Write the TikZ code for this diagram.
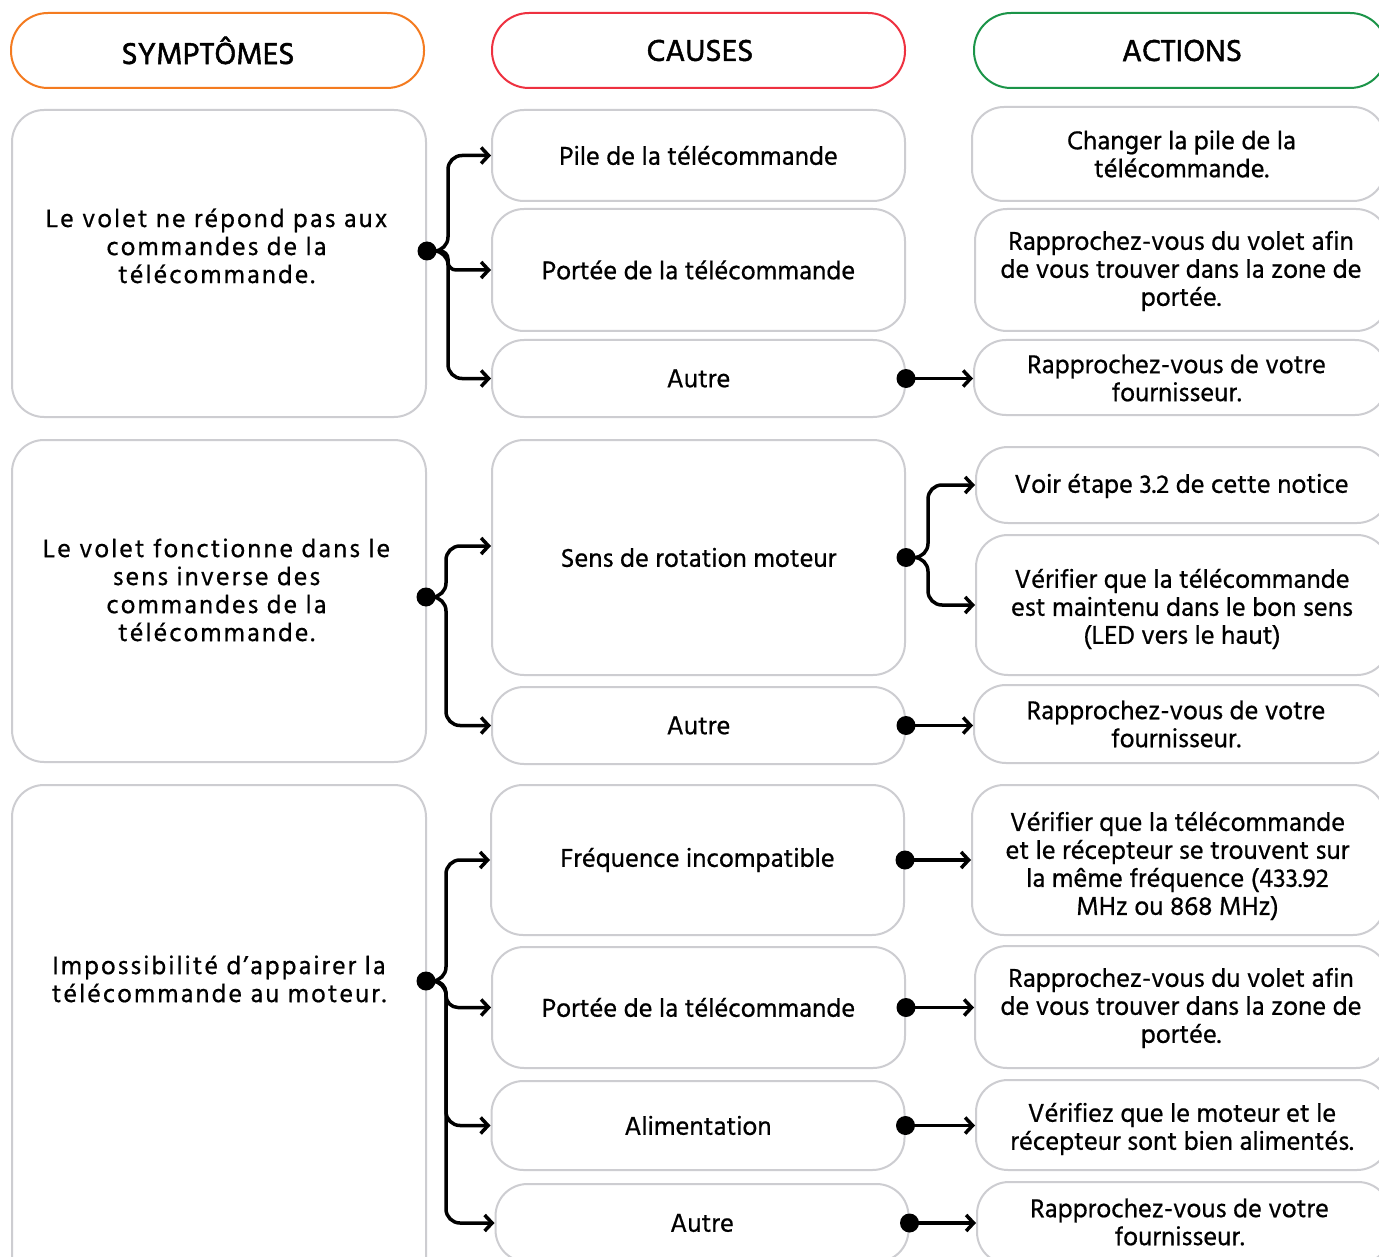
\documentclass[tikz,border=0pt]{standalone}
\usepackage{fontspec}
\setmainfont{Hind Madurai}[FakeBold=0.6]
\newfontfamily\hdrf{Hind Madurai}[FakeBold=1.6]
\usetikzlibrary{arrows.meta}
\definecolor{gbord}{HTML}{CDCDD1}
\definecolor{orng}{HTML}{F47B20}
\definecolor{redc}{HTML}{EE3140}
\definecolor{grn}{HTML}{1B9448}
\begin{document}
\begin{tikzpicture}[x=1pt,y=-1pt,
  box/.style={draw=gbord, line width=2pt, rounded corners=32pt, fill=white, inner sep=0pt, align=center, font=\fontsize{26.5}{28}\selectfont},
  hdr/.style={line width=2pt, rounded corners=37pt, minimum width=413pt, minimum height=75pt, inner sep=0pt},
  htxt/.style={inner sep=0pt, font=\hdrf\fontsize{31}{32}\selectfont},
  atxt/.style={align=center, inner sep=0pt, font=\fontsize{26.5}{28}\selectfont},
  stxt/.style={align=center, inner sep=0pt, font=\addfontfeature{LetterSpace=8}\fontsize{26}{28}\selectfont},
  cw/.style={minimum width=413pt},
  conn/.style={line width=3.5pt, -{Straight Barb[length=7.5pt,width=16pt]}},
  dotc/.style={fill=black}
]
\useasboundingbox (0,0) rectangle (1379,1257);
\clip (0,0) rectangle (1379,1257);
\fill[white] (0,0) rectangle (1379,1257);

% headers
\node[hdr, draw=orng] (h1) at (217.5,50.5) {};
\node[htxt] (h1t) at (208,50.5) {SYMPTÔMES};
\node[hdr, draw=redc] (h2) at (698.5,50.5) {};
\node[htxt] (h2t) at (700,50.5) {CAUSES};
\node[hdr, draw=grn] (h3) at (1180.5,50.5) {};
\node[htxt] (h3t) at (1182,50.5) {ACTIONS};

% symptoms
\node[box, minimum width=414pt, minimum height=307pt] (s1) at (219,263.5) {};
\node[stxt] (s1t) at (216.5,246) {Le volet ne répond pas aux\\commandes de la\\télécommande.};
\node[box, minimum width=414pt, minimum height=322pt] (s2) at (219,601) {};
\node[stxt] (s2t) at (216.5,590) {Le volet fonctionne dans le\\sens inverse des\\commandes de la\\télécommande.};
\node[box, minimum width=414pt, minimum height=510pt] (s3) at (219,1040) {};
\node[stxt] (s3t) at (219,979) {Impossibilité d’appairer la\\télécommande au moteur.};

% causes
\node[box, cw, minimum height=91pt] (c1) at (698.5,155.5) {Pile de la télécommande};
\node[box, cw, minimum height=122pt] (c2) at (698.5,270) {Portée de la télécommande};
\node[box, cw, minimum height=77pt] (c3) at (698.5,378.5) {Autre};
\node[box, cw, minimum height=235pt] (c4) at (698.5,557.5) {Sens de rotation moteur};
\node[box, cw, minimum height=77pt] (c5) at (698.5,725.5) {Autre};
\node[box, cw, minimum height=150pt] (c6) at (697.5,860) {Fréquence incompatible};
\node[box, cw, minimum height=121pt] (c7) at (698.5,1007.5) {Portée de la télécommande};
\node[box, cw, minimum height=89pt] (c8) at (698,1125.5) {Alimentation};
\node[box, cw, minimum height=78pt] (c9) at (702,1223) {Autre};

% actions
\node[box, cw, minimum height=94pt] (a1) at (1178.5,154) {};
\node[atxt] (a1t) at (1181.5,154) {Changer la pile de la\\télécommande.};
\node[box, cw, minimum height=122pt] (a2) at (1181.5,270) {};
\node[atxt] (a2t) at (1181,271) {Rapprochez-vous du volet afin\\de vous trouver dans la zone de\\portée.};
\node[box, cw, minimum height=75pt] (a3) at (1180.5,377.5) {};
\node[atxt] (a3t) at (1176.5,378) {Rapprochez-vous de votre\\fournisseur.};
\node[box, cw, minimum height=76pt] (a4) at (1182.5,485) {};
\node[atxt] (a4t) at (1181.5,486) {Voir étape 3.2 de cette notice};
\node[box, cw, minimum height=140pt] (a5) at (1182.5,605) {};
\node[atxt] (a5t) at (1182,609) {Vérifier que la télécommande\\est maintenu dans le bon sens\\(LED vers le haut)};
\node[box, cw, minimum height=78pt] (a6) at (1180.5,724) {};
\node[atxt] (a6t) at (1176,724) {Rapprochez-vous de votre\\fournisseur.};
\node[box, cw, minimum height=150pt] (a7) at (1178.5,860) {};
\node[atxt] (a7t) at (1177.5,866) {Vérifier que la télécommande\\et le récepteur se trouvent sur\\la même fréquence (433.92\\MHz ou 868 MHz)};
\node[box, cw, minimum height=122pt] (a8) at (1181.5,1007) {};
\node[atxt] (a8t) at (1181,1008) {Rapprochez-vous du volet afin\\de vous trouver dans la zone de\\portée.};
\node[box, cw, minimum height=90pt] (a9) at (1182.5,1125) {};
\node[atxt] (a9t) at (1182,1129) {Vérifiez que le moteur et le\\récepteur sont bien alimentés.};
\node[box, cw, minimum height=82pt] (a10) at (1183.5,1223) {};
\node[atxt] (a10t) at (1179.5,1222) {Rapprochez-vous de votre\\fournisseur.};

% group 1 connectors
\coordinate (d1) at (427,251);
\coordinate (t1) at (448,251);
\draw[conn, rounded corners=14pt] (d1) -- (t1) |- (c1.west);
\draw[conn, rounded corners=8pt] (d1) -- (t1) |- (c2.west);
\draw[conn, rounded corners=14pt] (d1) -- (t1) |- (c3.west);
\fill[dotc] (d1) circle (9.5pt);

% group 2
\coordinate (d2) at (426,597);
\coordinate (t2) at (446,597);
\path (c4.west) ++(0,-11.5) coordinate (c4in);
\draw[conn, rounded corners=14pt] (d2) -- (t2) |- (c4in);
\draw[conn, rounded corners=14pt] (d2) -- (t2) |- (c5.west);
\fill[dotc] (d2) circle (9.5pt);

% group 3
\coordinate (d3) at (426,981);
\coordinate (t3) at (446,981);
\draw[conn, rounded corners=14pt] (d3) -- (t3) |- (c6.west);
\draw[conn, rounded corners=12pt] (d3) -- (t3) |- (c7.west);
\draw[conn, rounded corners=14pt] (d3) -- (t3) |- (c8.west);
\draw[conn, rounded corners=14pt] (d3) -- (t3) |- (c9.west);
\fill[dotc] (d3) circle (9.5pt);

% right connectors
\draw[conn] (c3.east) -- (a3.west |- c3.east);
\fill[dotc] (c3.east) circle (9.5pt);

\coordinate (t4) at (928,557.5);
\draw[conn, rounded corners=14pt] (c4.east) -- (t4) |- (a4.west);
\draw[conn, rounded corners=14pt] (c4.east) -- (t4) |- (a5.west);
\fill[dotc] (c4.east) circle (9.5pt);

\draw[conn] (c5.east) -- (a6.west |- c5.east);
\fill[dotc] (c5.east) circle (9.5pt);
\draw[conn] (c6.east) -- (a7.west |- c6.east);
\fill[dotc] (c6.east) circle (9.5pt);
\draw[conn] (c7.east) -- (a8.west |- c7.east);
\fill[dotc] (c7.east) circle (9.5pt);
\draw[conn] (c8.east) -- (a9.west |- c8.east);
\fill[dotc] (c8.east) circle (9.5pt);
\draw[conn] (c9.east) -- (a10.west |- c9.east);
\fill[dotc] (c9.east) circle (9.5pt);
\end{tikzpicture}
\end{document}
